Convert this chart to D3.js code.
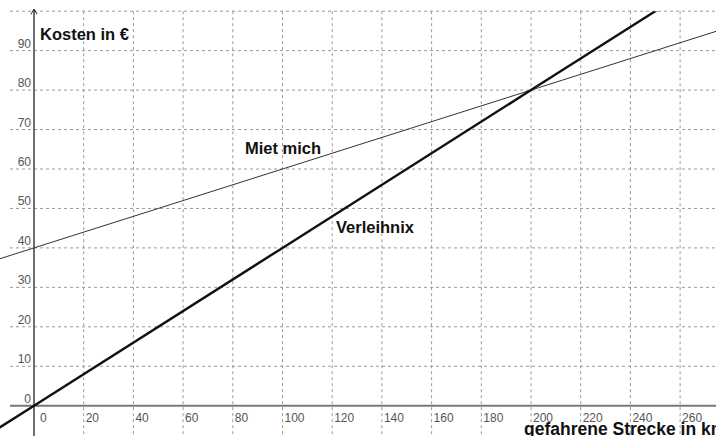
<!DOCTYPE html>
<html>
<head>
<meta charset="utf-8">
<title>Kosten</title>
<style>
body { margin: 0; background: #fff; }
svg { display: block; font-family: "Liberation Sans", Arial, sans-serif; }
.grid line { stroke: #9a9a9a; stroke-width: 1; stroke-dasharray: 3,3; }
.tick-label { fill: #555; font-size: 12px; }
.title { font-weight: bold; font-size: 16.5px; fill: #111; }
</style>
</head>
<body>
<svg></svg>
<script src="https://d3js.org/d3.v7.min.js"></script>
<script>
const width = 716, height = 436;

// ticks
const xTicks = [0, 20, 40, 60, 80, 100, 120, 140, 160, 180, 200, 220, 240, 260, 280];
const yTicks = [0, 10, 20, 30, 40, 50, 60, 70, 80, 90, 100];

// cost lines
const km = [-20, 0, 100, 200, 300];
const verleihnix = [-8, 0, 40, 80, 120];
const mietMich = [36, 40, 60, 80, 100];

const x = d3.scaleLinear([0, 280], [34, 34 + 280 * 2.485]);
const y = d3.scaleLinear([0, 100], [405.7, 11.2]);

const svg = d3.select('svg').attr('width', width).attr('height', height);

svg.append('clipPath').attr('id', 'clip')
   .append('rect').attr('x', 0).attr('y', y(100)).attr('width', width).attr('height', height);

const grid = svg.append('g').classed('grid', true);
grid.selectAll('.h').data(yTicks.filter(d => d > 0)).join('line')
    .attr('x1', 10).attr('x2', width)
    .attr('y1', d => y(d)).attr('y2', d => y(d));
grid.selectAll('.v').data(xTicks.filter(d => d > 0)).join('line')
    .attr('x1', d => x(d)).attr('x2', d => x(d))
    .attr('y1', y(100)).attr('y2', height);

// x axis
svg.append('line')
   .attr('x1', 10).attr('x2', width)
   .attr('y1', y(0)).attr('y2', y(0))
   .attr('stroke', '#777').attr('stroke-width', 2);

// y axis with arrow
svg.append('line')
   .attr('x1', x(0)).attr('x2', x(0))
   .attr('y1', y(100) - 2).attr('y2', height)
   .attr('stroke', '#222').attr('stroke-width', 1.3);
svg.append('path')
   .attr('d', `M${x(0) - 3},${y(100) + 3} L${x(0)},${y(100) - 2} L${x(0) + 3},${y(100) + 3}`)
   .attr('fill', 'none').attr('stroke', '#222').attr('stroke-width', 1);

svg.selectAll('.ylab').data(yTicks.filter(d => d < 100)).join('text')
   .classed('tick-label', true)
   .attr('text-anchor', 'end')
   .attr('x', x(0) - 3).attr('y', d => y(d) - 3)
   .text(d => d);

svg.selectAll('.xlab').data(xTicks.filter(d => d < 280)).join('text')
   .classed('tick-label', true)
   .attr('x', d => x(d) + (d === 0 ? 6 : 2)).attr('y', y(0) + 16)
   .text(d => d);

const line = d3.line().x(d => x(d[0])).y(d => y(d[1]));
const lines = svg.append('g').attr('clip-path', 'url(#clip)');

lines.append('path')
     .attr('d', line(d3.zip(km, mietMich)))
     .attr('fill', 'none').attr('stroke', '#333').attr('stroke-width', 1);

lines.append('path')
     .attr('d', line(d3.zip(km, verleihnix)))
     .attr('fill', 'none').attr('stroke', '#111').attr('stroke-width', 2.4);

svg.append('text').classed('title', true).attr('x', 40).attr('y', 40).text('Kosten in €');
svg.append('text').classed('title', true).style('font-size', '17.5px')
   .attr('x', 524).attr('y', 435).text('gefahrene Strecke in km');
svg.append('text').classed('title', true).attr('x', 245).attr('y', 154).text('Miet mich');
svg.append('text').classed('title', true).attr('x', 336).attr('y', 233).text('Verleihnix');
</script>
</body>
</html>
